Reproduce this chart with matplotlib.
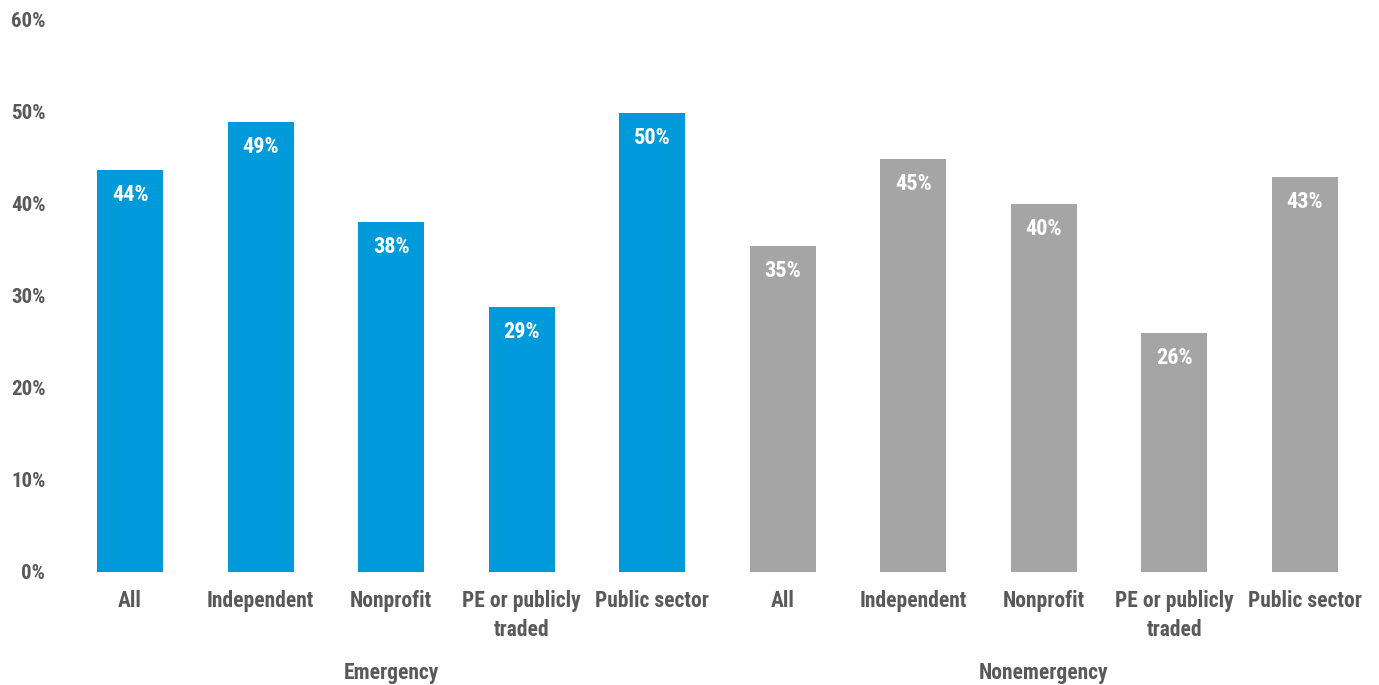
import matplotlib.pyplot as plt
from matplotlib import font_manager as fm
import numpy as np

# pick a narrow font if one is installed
names = {f.name for f in fm.fontManager.ttflist}
cond = [f.name for f in fm.fontManager.ttflist if f.stretch in ("condensed", "semi-condensed")]
fam = "DejaVu Sans"
for cand in ["Roboto Condensed", "Liberation Sans Narrow", "Open Sans Condensed"]:
    if cand in names:
        fam = cand
        break
else:
    if cond:
        fam = cond[0]
plt.rcParams['font.family'] = [fam, 'DejaVu Sans']
plt.rcParams['font.stretch'] = 'condensed'

# data
groups = ["Emergency", "Nonemergency"]
categories = ["All", "Independent", "Nonprofit", "PE or publicly\ntraded", "Public sector"]
emergency = [43.7, 48.9, 38.0, 28.8, 49.9]
nonemergency = [35.4, 44.9, 40.0, 26.0, 42.9]
yticks = [0, 10, 20, 30, 40, 50, 60]

blue = "#009ADA"
grey = "#A5A5A5"
txt = "#595959"

fig = plt.figure(figsize=(13.79, 6.85), dpi=100)
ax = fig.add_axes([0.047, 0.165, 0.9465, 0.806])

values = emergency + nonemergency
colors = [blue] * len(emergency) + [grey] * len(nonemergency)
x = np.arange(len(values))
bars = ax.bar(x, values, width=0.505, color=colors)

for b, v in zip(bars, values):
    ax.annotate(f"{v:.0f}%", (b.get_x() + b.get_width() / 2, v),
                xytext=(0, -10), textcoords="offset points",
                ha="center", va="top", color="white",
                fontsize=16, fontweight="bold")

ax.set_xlim(-0.5, len(values) - 0.5)
ax.set_ylim(0, 60)
ax.set_yticks(yticks)
ax.set_yticklabels([f"{t}%" for t in yticks])
ax.set_xticks(x)
ax.set_xticklabels(categories * 2, linespacing=1.42)
ax.tick_params(axis="y", length=0, pad=14, labelsize=15, labelcolor=txt)
ax.tick_params(axis="x", length=0, pad=13, labelsize=15.5, labelcolor=txt)
for lab in ax.get_xticklabels() + ax.get_yticklabels():
    lab.set_fontweight("bold")

for s in ax.spines.values():
    s.set_visible(False)

n = len(categories)
for i, g in enumerate(groups):
    cx = i * n + (n - 1) / 2
    ax.annotate(g, (cx, 0), xytext=(0, -73), textcoords="offset points",
                xycoords=("data", "axes fraction"),
                ha="center", va="center", fontsize=15.5, fontweight="bold", color=txt)

fig.savefig("out.png", dpi=100)
